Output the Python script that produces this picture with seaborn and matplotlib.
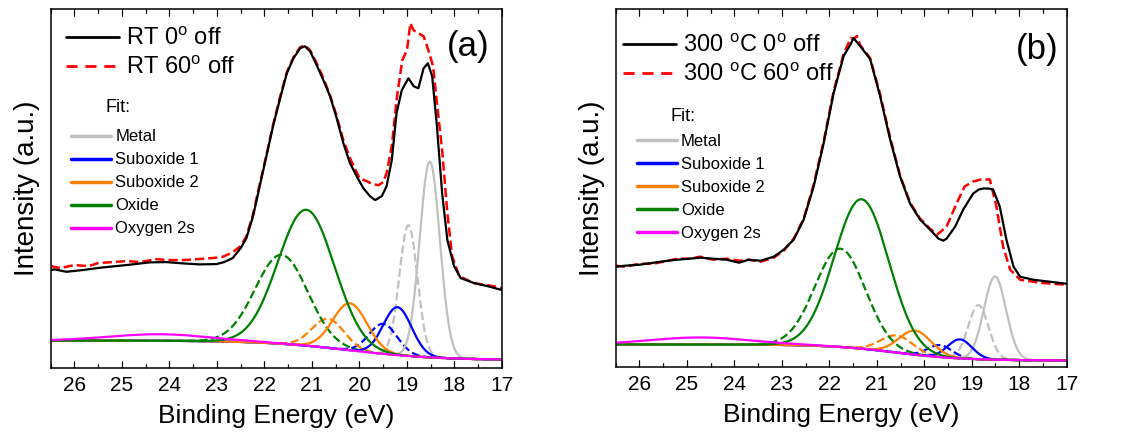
import numpy as np
import pandas as pd
import matplotlib
matplotlib.use("Agg")
import matplotlib.pyplot as plt
import seaborn as sns
from matplotlib.lines import Line2D
from matplotlib.ticker import MultipleLocator, NullLocator

# ---------------- data ----------------
# Panel (a): measured spectra (binding energy eV, intensity a.u.)
a_e0 = [26.5, 26.42, 26.17, 25.83, 25.47, 25.12, 24.78, 24.42, 24.07, 23.72, 23.37, 23.01,
        22.85, 22.67, 22.5, 22.38, 22.24, 22.10, 21.96, 21.82, 21.68, 21.53, 21.39, 21.25,
        21.15, 21.04, 20.90, 20.76, 20.62, 20.48, 20.34, 20.20, 20.06, 19.92, 19.78, 19.67,
        19.53, 19.43, 19.32, 19.22, 19.11, 18.97, 18.90, 18.86, 18.76, 18.65, 18.56, 18.47,
        18.37, 18.26, 18.15, 18.01, 17.87, 17.59, 17.31, 17.0]
a_i0 = [98, 98.7, 96.3, 98, 100.3, 102, 103.7, 105.7, 106, 104.7, 103.7, 104,
        106, 110, 120, 130, 152, 182, 212, 242, 268, 295, 310, 320,
        322, 317, 303, 288, 272, 250, 225, 205, 192, 180, 172, 168,
        172, 182, 208, 255, 278, 290, 285, 282, 280, 300, 305, 292,
        242, 175, 128, 102, 90, 85, 82, 78]
a_e60 = [26.5, 26.3, 26.0, 25.7, 25.5, 25.2, 24.9, 24.6, 24.3, 24.0, 23.7, 23.4, 23.1,
         22.9, 22.7, 22.5, 22.38, 22.24, 22.10, 21.96, 21.82, 21.68, 21.53, 21.39, 21.25,
         21.15, 21.04, 20.90, 20.76, 20.62, 20.48, 20.34, 20.20, 20.0, 19.85, 19.72, 19.6,
         19.5, 19.43, 19.32, 19.22, 19.10, 19.0, 18.93, 18.86, 18.76, 18.65, 18.55, 18.45,
         18.37, 18.26, 18.15, 18.05, 17.90, 17.6, 17.2, 17.0]
a_i60 = [102, 100, 103, 102, 105, 106, 107, 106, 109, 108, 108, 109, 110,
         111, 115, 122, 132, 154, 184, 213, 243, 270, 296, 311, 321,
         323, 318, 305, 290, 273, 252, 228, 210, 190, 187, 184, 183,
         186, 195, 222, 268, 308, 318, 345, 338, 335, 332, 318, 302,
         265, 218, 155, 112, 92, 85, 82, 80]

# Panel (a): fitted components (metal, suboxide 1, suboxide 2, oxide, oxygen 2s)
a_fit0_center = [18.52, 19.20, 20.20, 21.12, 24.2]
a_fit0_height = [196, 48, 47, 136, 6.5]
a_fit0_fwhm = [0.50, 0.70, 0.85, 1.40, 2.5]
a_fit60_center = [18.97, 19.50, 20.66, 21.64]
a_fit60_height = [131, 30, 29, 89]
a_fit60_fwhm = [0.45, 0.70, 0.80, 1.30]
a_bg = [27.5, 8.0, 20.2, 1.8]          # high level, low level, step centre, step width

# Panel (b): measured spectra
b_e0 = [26.5, 26.3, 26.0, 25.7, 25.4, 25.2, 24.95, 24.72, 24.45, 24.16, 23.9, 23.7, 23.45,
        23.17, 22.96, 22.75, 22.54, 22.33, 22.12, 21.91, 21.70, 21.55, 21.49, 21.42, 21.35,
        21.14, 20.93, 20.72, 20.51, 20.30, 20.09, 19.88, 19.70, 19.60, 19.53, 19.35, 19.18,
        18.97, 18.85, 18.76, 18.65, 18.55, 18.41, 18.27, 18.12, 17.98, 17.70, 17.35, 17.0]
b_i0 = [100, 101, 102, 104, 106, 107, 108, 109, 108, 107, 104, 107, 106,
        110, 117, 127, 147, 180, 223, 273, 310, 322, 328, 324, 320,
        307, 270, 227, 190, 163, 147, 137, 128, 126, 128, 140, 157,
        173, 177, 178, 178, 177, 160, 127, 100, 90, 87, 85, 83]
b_e60 = [26.5, 26.3, 26.0, 25.7, 25.4, 25.2, 24.95, 24.72, 24.45, 24.16, 23.9, 23.7, 23.45,
         23.17, 22.96, 22.75, 22.54, 22.33, 22.12, 21.91, 21.70, 21.55, 21.49, 21.42, 21.35,
         21.14, 20.93, 20.72, 20.51, 20.30, 20.09, 19.88, 19.73, 19.53, 19.32, 19.15,
         18.97, 18.80, 18.62, 18.48, 18.34, 18.19, 17.98, 17.56, 17.0]
b_i60 = [101, 100, 103, 103, 106, 108, 108, 110, 107, 108, 106, 107, 105,
         109, 116, 128, 148, 182, 225, 275, 312, 328, 327, 330, 321,
         308, 272, 229, 191, 164, 148, 138, 132, 140, 163, 180,
         185, 187, 187, 160, 120, 97, 87, 84, 82]

# Panel (b): fitted components
b_fit0_center = [18.51, 19.25, 20.19, 21.32, 24.72]
b_fit0_height = [83, 19, 24, 149, 7]
b_fit0_fwhm = [0.55, 0.60, 0.80, 1.35, 2.5]
b_fit60_center = [18.86, 19.67, 20.58, 21.77]
b_fit60_height = [54, 12, 17, 98]
b_fit60_fwhm = [0.50, 0.60, 0.80, 1.25]
b_bg = [22.5, 6.5, 20.6, 1.4]

fit_names = ["Metal", "Suboxide 1", "Suboxide 2", "Oxide", "Oxygen 2s"]
fit_colors = ["#c0c0c0", "#0000ff", "#ff8000", "#008000", "#ff00ff"]

panel_tags = ["(a)", "(b)"]
spec_labels = [["RT 0$^\\mathregular{o}$ off", "RT 60$^\\mathregular{o}$ off"],
               ["300 $^\\mathregular{o}$C 0$^\\mathregular{o}$ off",
                "300 $^\\mathregular{o}$C 60$^\\mathregular{o}$ off"]]
xlabel = "Binding Energy (eV)"
ylabel = "Intensity (a.u.)"
major_ticks = [26, 25, 24, 23, 22, 21, 20, 19, 18, 17]
minor_ticks = [26.5, 25.5, 24.5, 23.5, 22.5, 21.5, 20.5, 19.5, 18.5, 17.5]

# ---------------- styling ----------------
sns.set_style("ticks")
plt.rcParams["font.family"] = ["Liberation Sans", "DejaVu Sans"]
plt.rcParams["mathtext.fontset"] = "custom"
plt.rcParams["mathtext.rm"] = "Liberation Sans"
for key in ["text.color", "axes.labelcolor", "xtick.color", "ytick.color", "axes.edgecolor"]:
    plt.rcParams[key] = "black"
plt.rcParams.update({
    "xtick.direction": "in", "xtick.top": True, "xtick.bottom": True,
    "xtick.major.size": 5, "xtick.minor.size": 2.9,
    "xtick.major.width": 0.8, "xtick.minor.width": 0.8,
    "axes.axisbelow": False,
})

W, H = 1123, 437
fig = plt.figure(figsize=(W / 100, H / 100), dpi=100)
ax_a = fig.add_axes([50.7 / W, 1 - 368 / H, 451.3 / W, 358.7 / H])
ax_b = fig.add_axes([615.7 / W, 1 - 367 / H, 451.0 / W, 358.0 / H])

egrid = np.linspace(17.0, 26.5, 800)


def background(p):
    hi, lo, c, w = p
    return lo + (hi - lo) * (1 + np.tanh((egrid - c) / w)) / 2


def component(bg, c, h, f):
    return bg + h * np.exp(-4 * np.log(2) * (egrid - c) ** 2 / f ** 2)


DASH = (5.5, 3.5)
panels = [
    (ax_a, a_e0, a_i0, a_e60, a_i60, a_fit0_center, a_fit0_height, a_fit0_fwhm,
     a_fit60_center, a_fit60_height, a_fit60_fwhm, a_bg, (0, 359)),
    (ax_b, b_e0, b_i0, b_e60, b_i60, b_fit0_center, b_fit0_height, b_fit0_fwhm,
     b_fit60_center, b_fit60_height, b_fit60_fwhm, b_bg, (0, 357)),
]
spec_anchor = [(0.034, 0.949), (0.016, 0.929)]
fit_anchor = [(0.045, 0.665), (0.047, 0.65)]
fit_title = [(0.122, 0.725), (0.122, 0.70)]
tag_pos = [(0.925, 0.897), (0.935, 0.888)]

for k, (ax, e0, i0, e60, i60, c0, h0, f0, c6, h6, f6, bgp, ylim) in enumerate(panels):
    bg = background(bgp)
    # dashed (60 deg) components
    for j in range(len(c6)):
        sns.lineplot(x=egrid, y=component(bg, c6[j], h6[j], f6[j]), ax=ax,
                     color=fit_colors[j], lw=1.6, linestyle="--", dashes=DASH,
                     sort=False, estimator=None)
    # solid (0 deg) components
    for j in range(len(c0)):
        sns.lineplot(x=egrid, y=component(bg, c0[j], h0[j], f0[j]), ax=ax,
                     color=fit_colors[j], lw=1.6, sort=False, estimator=None)
    # measured spectra
    sns.lineplot(x=e60, y=i60, ax=ax, color="#ff0000", lw=1.8, linestyle="--",
                 dashes=DASH, sort=False, estimator=None)
    sns.lineplot(x=e0, y=i0, ax=ax, color="black", lw=1.6, sort=False, estimator=None)

    ax.set_xlim(26.5, 17.0)
    ax.set_ylim(*ylim)
    ax.set_xticks(major_ticks)
    ax.set_xticklabels([str(t) for t in major_ticks])
    ax.xaxis.set_minor_locator(MultipleLocator(0.5))
    ax.set_yticks([])
    ax.yaxis.set_minor_locator(NullLocator())
    ax.set_axisbelow(False)
    ax.xaxis.set_tick_params(which="major", direction="in", top=True, bottom=True,
                             length=5, width=0.8, labelsize=15, pad=6, color="black",
                             labelcolor="black", tick1On=True, tick2On=True)
    ax.xaxis.set_tick_params(which="minor", direction="in", top=True, bottom=True,
                             length=2.9, width=0.8, color="black",
                             tick1On=True, tick2On=True)
    # inward tick marks on bottom and top edges, placed at the tick positions
    tr = ax.get_xaxis_transform()
    hgt = ax.get_position().height * H
    maj = 7.0 / hgt
    mnr = 4.0 / hgt
    ax.vlines(major_ticks, 0, maj, transform=tr, color="black", lw=0.8, zorder=5)
    ax.vlines(major_ticks, 1 - maj, 1, transform=tr, color="black", lw=0.8, zorder=5)
    ax.vlines(minor_ticks, 0, mnr, transform=tr, color="black", lw=0.8, zorder=5)
    ax.vlines(minor_ticks, 1 - mnr, 1, transform=tr, color="black", lw=0.8, zorder=5)

    for s in ax.spines.values():
        s.set_visible(True)
        s.set_linewidth(1.1)
        s.set_color("black")
    ax.set_xlabel(xlabel, fontsize=19, labelpad=6, color="black")
    ax.set_ylabel(ylabel, fontsize=20, labelpad=8, color="black")

    # spectra legend
    h_spec = [Line2D([], [], color="black", lw=2.0),
              Line2D([], [], color="#ff0000", lw=2.0, linestyle="--", dashes=(4.0, 2.8))]
    leg1 = ax.legend(h_spec, spec_labels[k], loc="upper left",
                     bbox_to_anchor=spec_anchor[k],
                     frameon=False, fontsize=17, handlelength=2.25, handletextpad=0.3,
                     labelspacing=0.25, borderpad=0, borderaxespad=0, labelcolor="black")
    ax.add_artist(leg1)

    # fit legend
    h_fit = [Line2D([], [], color=c, lw=2.5) for c in fit_colors]
    ax.legend(h_fit, fit_names, loc="upper left",
              bbox_to_anchor=fit_anchor[k],
              frameon=False, fontsize=12, handlelength=2.4, handletextpad=0.25,
              labelspacing=0.48, borderpad=0, borderaxespad=0, labelcolor="black")
    ax.text(fit_title[k][0], fit_title[k][1], "Fit:",
            transform=ax.transAxes, fontsize=13, ha="left", va="center", color="black")

    ax.text(tag_pos[k][0], tag_pos[k][1], panel_tags[k], transform=ax.transAxes,
            fontsize=25, ha="center", va="center", color="black")

fig.savefig("out.png", dpi=100)
